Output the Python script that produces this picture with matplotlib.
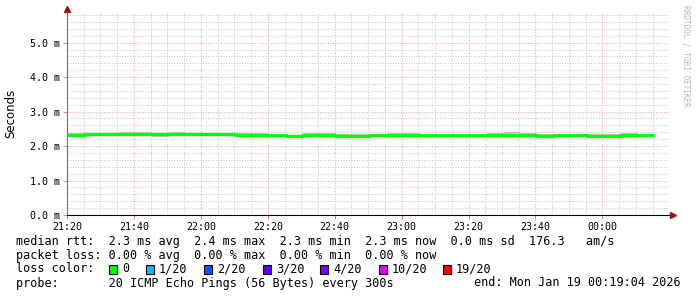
import matplotlib
matplotlib.use("Agg")
import matplotlib.pyplot as plt
from matplotlib.patches import Rectangle
import numpy as np

W, H = 697, 297

# step edges in minutes after 21:20 (first sample boundary 21:25:30, 300 s step)
edges = np.r_[0.0, 5.5 + 5.0 * np.arange(35)]

# median rtt per 5-minute step (ms)
median_ms = [2.33, 2.34, 2.34, 2.34, 2.34, 2.34, 2.34, 2.34, 2.34, 2.34,
             2.32, 2.32, 2.32, 2.29, 2.33, 2.33, 2.30, 2.30, 2.33, 2.31,
             2.31, 2.31, 2.31, 2.31, 2.31, 2.33, 2.32, 2.32, 2.30, 2.33,
             2.33, 2.30, 2.30, 2.31, 2.32]
# smoke (min / max of the pings) per step (ms)
smoke_lo = [2.30, 2.29, 2.29, 2.31, 2.31, 2.27, 2.30, 2.31, 2.31, 2.31,
            2.28, 2.28, 2.29, 2.27, 2.29, 2.29, 2.27, 2.27, 2.30, 2.28,
            2.28, 2.28, 2.28, 2.28, 2.27, 2.30, 2.29, 2.28, 2.27, 2.31,
            2.31, 2.28, 2.28, 2.29, 2.29]
smoke_hi = [2.38, 2.37, 2.37, 2.42, 2.41, 2.37, 2.41, 2.39, 2.37, 2.37,
            2.37, 2.37, 2.36, 2.33, 2.38, 2.38, 2.34, 2.34, 2.35, 2.37,
            2.38, 2.35, 2.35, 2.35, 2.34, 2.37, 2.42, 2.39, 2.35, 2.36,
            2.36, 2.34, 2.34, 2.37, 2.35]

xtick_pos = [0, 20, 40, 60, 80, 100, 120, 140, 160]
xtick_labels = ["21:20", "21:40", "22:00", "22:20", "22:40",
                "23:00", "23:20", "23:40", "00:00"]
ytick_pos = [0, 1, 2, 3, 4, 5]

loss_labels = ["0", "1/20", "2/20", "3/20", "4/20", "10/20", "19/20"]
loss_colors = ["#00ff00", "#00b8ff", "#0059ff", "#5e00ff",
               "#7e00ff", "#dd00ff", "#ff0000"]

mono = "DejaVu Sans Mono"

fig = plt.figure(figsize=(W / 100, H / 100), dpi=100)
fig.patch.set_facecolor("white")
ax = fig.add_axes([67 / W, 1 - 215 / H, (669 - 67) / W, (215 - 12) / H])
ax.set_xlim(0, 179.9)
ax.set_ylim(0, 5.89)

# grid
ax.set_xticks(xtick_pos)
ax.set_xticks(np.arange(0, 180, 5), minor=True)
ax.set_yticks(ytick_pos)
ax.set_yticks(np.arange(0, 5.9, 0.2), minor=True)
ax.grid(which="minor", color="#cacaca", linestyle=(0, (1, 1.5)), linewidth=0.75)
ax.grid(which="major", color="#f0a4a4", linestyle=(0, (1, 1.5)), linewidth=0.75)
ax.set_axisbelow(True)

ax.set_xticklabels(xtick_labels, fontsize=7.2, family=mono)
ax.set_yticklabels(["%.1f m" % v for v in ytick_pos], fontsize=7.2, family=mono)
ax.tick_params(which="major", length=3, width=0.7, color="#e08080", pad=2)
ax.tick_params(which="minor", length=0)

for s in ["top", "right"]:
    ax.spines[s].set_visible(False)
ax.spines["left"].set_color("#707070")
ax.spines["bottom"].set_color("black")
ax.spines["left"].set_linewidth(0.8)
ax.spines["bottom"].set_linewidth(0.8)

# arrows
ax.plot([0], [1.015], marker="^", color="#a01010", markersize=4,
        transform=ax.transAxes, clip_on=False)
ax.plot([1.006], [0], marker=">", color="#a01010", markersize=4,
        transform=ax.transAxes, clip_on=False)

# smoke and median
ax.stairs(smoke_hi, edges, baseline=smoke_lo, fill=True, color="#c2c2c2", zorder=2)
ax.stairs(median_ms, edges, baseline=None, color="#00ff00", linewidth=2.3, zorder=3)

fig.text(11 / W, 1 - 113 / H, "Seconds", rotation=90, ha="center", va="center",
         fontsize=8.5, family="DejaVu Sans")
fig.text(686 / W, 1 - 5 / H, "RRDTOOL / TOBI OETIKER", rotation=-90,
         ha="center", va="top", fontsize=5.6, family=mono, color="#b8b8b8")

# legend text
lines = [
    "median rtt:  2.3 ms avg  2.4 ms max  2.3 ms min  2.3 ms now  0.0 ms sd  176.3   am/s",
    "packet loss: 0.00 % avg  0.00 % max  0.00 % min  0.00 % now",
    "loss color:",
    "probe:       20 ICMP Echo Pings (56 Bytes) every 300s",
]
rows = [241, 255, 269, 283]
for txt, r in zip(lines, rows):
    fig.text(16 / W, 1 - r / H, txt, ha="left", va="center", fontsize=8.5, family=mono)
fig.text(681 / W, 1 - 283 / H, "end: Mon Jan 19 00:19:04 2026", ha="right",
         va="center", fontsize=8.5, family=mono)

box_x = [109, 146, 204, 263, 320, 379, 443]
for bx, lab, col in zip(box_x, loss_labels, loss_colors):
    fig.add_artist(Rectangle((bx / W, 1 - 273.5 / H), 8 / W, 9 / H,
                             transform=fig.transFigure, facecolor=col,
                             edgecolor="black", linewidth=0.8))
    fig.text((bx + 13) / W, 1 - 269 / H, lab, ha="left", va="center",
             fontsize=8.5, family=mono)

fig.savefig("out.png", dpi=100)
